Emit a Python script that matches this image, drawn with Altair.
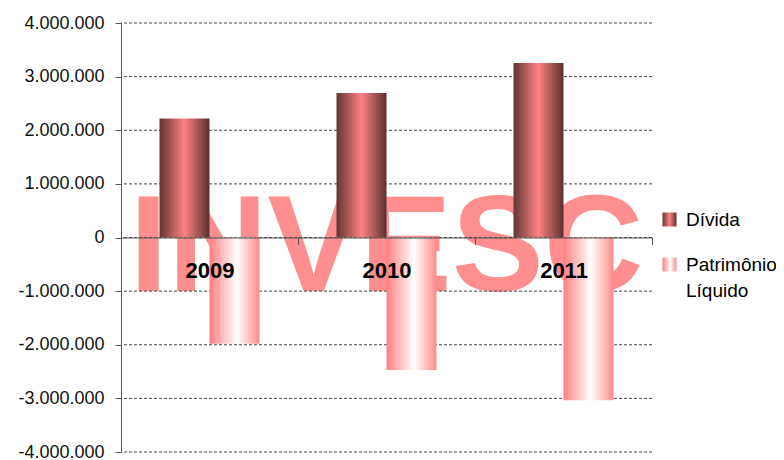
import altair as alt
import pandas as pd

years = ["2009", "2010", "2011"]
series_names = ["Dívida", "Patrimônio Líquido"]
divida = [2217000, 2696000, 3255000]
patrimonio = [-1980000, -2473000, -3037000]
y_ticks = [-4000000, -3000000, -2000000, -1000000, 0, 1000000, 2000000, 3000000, 4000000]
watermark = "INVESC"

rows = []
for i, ano in enumerate(years):
    rows.append({"ano": ano, "serie": series_names[0], "valor": divida[i]})
    rows.append({"ano": ano, "serie": series_names[1], "valor": patrimonio[i]})
df = pd.DataFrame(rows)
grid_df = pd.DataFrame({"valor": y_ticks})
wm_df = pd.DataFrame({"t": [watermark]})

W, H = 531, 429
FONT = "Liberation Sans, Arial, sans-serif"

x_scale = alt.Scale(domain=years, paddingInner=0, paddingOuter=0)
y_scale = alt.Scale(domain=[y_ticks[0], y_ticks[-1]], nice=False, zero=False)

grad_div = ("{gradient: 'linear', x1: 0, y1: 0, x2: 1, y2: 0, stops: ["
            "{offset: 0, color: '#633535'}, {offset: 0.5, color: '#ff8282'}, "
            "{offset: 1, color: '#5a3030'}]}")
grad_pat = ("{gradient: 'linear', x1: 0, y1: 0, x2: 1, y2: 0, stops: ["
            "{offset: 0, color: '#ff7f7f'}, {offset: 0.55, color: '#ffffff'}, "
            "{offset: 1, color: '#ff8a8a'}]}")

label_expr = "(datum.value < 0 ? '-' : '') + replace(format(abs(datum.value), ','), regexp(',', 'g'), '.')"

x_axis = alt.Axis(
    title=None, orient="bottom", offset=-H / 2, tickBand="extent", labelAngle=0,
    labelFont=FONT, labelFontSize=22, labelFontWeight="bold", labelColor="#000000",
    labelPadding=16, labelBaseline="top", tickSize=7, tickColor="#555555",
    domainColor="#555555", zindex=1, grid=False)
y_axis = alt.Axis(
    title=None, values=y_ticks, labelExpr=label_expr, grid=False,
    labelFont=FONT, labelFontSize=18, labelColor="#111111", labelPadding=11,
    tickSize=6, tickColor="#555555", domainColor="#555555", zindex=1)

wm = alt.Chart(wm_df).mark_text(
    font=FONT, fontSize=138, fontWeight="bold", color="#ff8f8f",
    baseline="alphabetic", align="center",
).encode(
    x=alt.X(datum="2010", type="nominal", scale=x_scale, axis=x_axis),
    y=alt.Y(datum=-1000000, type="quantitative", scale=y_scale, axis=y_axis),
    text="t:N",
)

grid = alt.Chart(grid_df).mark_rule(color="#444444", strokeDash=[3, 2], strokeWidth=1).encode(
    y=alt.Y("valor:Q", scale=y_scale, axis=y_axis),
)

bars = alt.Chart(df).mark_bar().encode(
    x=alt.X("ano:N", scale=x_scale, sort=years, axis=x_axis),
    xOffset=alt.XOffset("serie:N", sort=series_names,
                        scale=alt.Scale(domain=series_names, paddingInner=0, paddingOuter=0.77)),
    y=alt.Y("valor:Q", scale=y_scale, axis=y_axis),
    color=alt.Color("serie:N", sort=series_names,
                    scale=alt.Scale(domain=series_names,
                                    range=[alt.ExprRef(grad_div), alt.ExprRef(grad_pat)]),
                    legend=alt.Legend(
                        title=None, orient="none", legendX=539, legendY=187,
                        direction="vertical", symbolType="square", symbolSize=196,
                        symbolStrokeWidth=0, labelFont=FONT, labelFontSize=19,
                        labelColor="#000000", labelOffset=7, rowPadding=25,
                        labelExpr="split(datum.label, ' ')", labelLimit=300, padding=0)),
)

chart = alt.layer(wm, grid, bars).properties(
    width=W, height=H,
    autosize=alt.AutoSizeParams(type="none"),
    padding={"left": 113, "top": 15, "right": 124, "bottom": 8},
).configure(
    view=alt.ViewConfig(stroke=None),
    style={"guide-label": {"lineHeight": 26}},
)

chart.save("out.html", embed_options={"renderer": "svg", "actions": False})
